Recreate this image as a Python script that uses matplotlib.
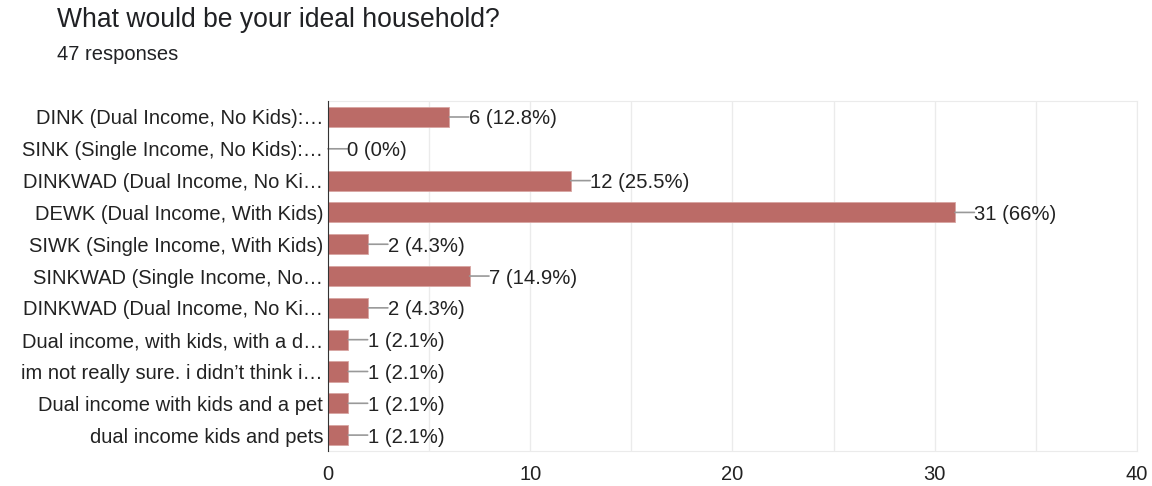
import matplotlib.pyplot as plt

plt.rcParams['font.family'] = ['Liberation Sans', 'DejaVu Sans']

# 问卷结果
labels = ['DINK (Dual Income, No Kids):…',
          'SINK (Single Income, No Kids):…',
          'DINKWAD (Dual Income, No Ki…',
          'DEWK (Dual Income, With Kids)',
          'SIWK (Single Income, With Kids)',
          'SINKWAD (Single Income, No…',
          'DINKWAD (Dual Income, No Ki…',
          'Dual income, with kids, with a d…',
          'im not really sure. i didn’t think i…',
          'Dual income with kids and a pet',
          'dual income kids and pets']
counts = [6, 0, 12, 31, 2, 7, 2, 1, 1, 1, 1]
total = 47
xticks = [0, 10, 20, 30, 40]

fig = plt.figure(figsize=(11.52, 4.86), dpi=100)
ax = fig.add_axes([0.2847, 0.072, 0.7023, 0.72])

y = list(range(len(labels)))
ax.barh(y, counts, height=0.63, color='#bb6b67', edgecolor='#d8a5a2', linewidth=0.6, zorder=3)

# 数值标签，带灰色引线
for yi, c in zip(y, counts):
    pct = round(c / total * 100, 1)
    pct_txt = '%g%%' % pct
    ax.annotate('', xy=(c, yi), xytext=(14, 0), textcoords='offset points',
                arrowprops=dict(arrowstyle='-', color='#999999', lw=1.2,
                                shrinkA=0, shrinkB=0))
    ax.annotate('%d (%s)' % (c, pct_txt), xy=(c, yi), xytext=(14, 0),
                textcoords='offset points', va='center_baseline', ha='left',
                fontsize=14.6, color='#222222')

ax.set_xlim(0, 40)
ax.set_ylim(len(labels) - 0.5, -0.5)
ax.set_yticks(y)
ax.set_yticklabels(labels, fontsize=14.5, color='#222222', va='center_baseline')
ax.set_xticks(xticks)
ax.set_xticklabels([str(t) for t in xticks], fontsize=14.5, color='#222222')
ax.set_xticks([5, 15, 25, 35], minor=True)
ax.tick_params(axis='both', which='both', length=0, pad=3.5)
ax.tick_params(axis='x', pad=10)
ax.grid(axis='x', which='both', color='#ebebeb', lw=1, zorder=0)

for side in ['top', 'right', 'bottom']:
    ax.spines[side].set_color('#ebebeb')
ax.spines['left'].set_color('#333333')
ax.spines['left'].set_zorder(4)

fig.text(0.0495, 0.958, 'What would be your ideal household?', fontsize=19.1,
         color='#202124', va='center')
fig.text(0.0495, 0.887, '47 responses', fontsize=14.5, color='#202124', va='center')

plt.savefig('out.png', dpi=100)
